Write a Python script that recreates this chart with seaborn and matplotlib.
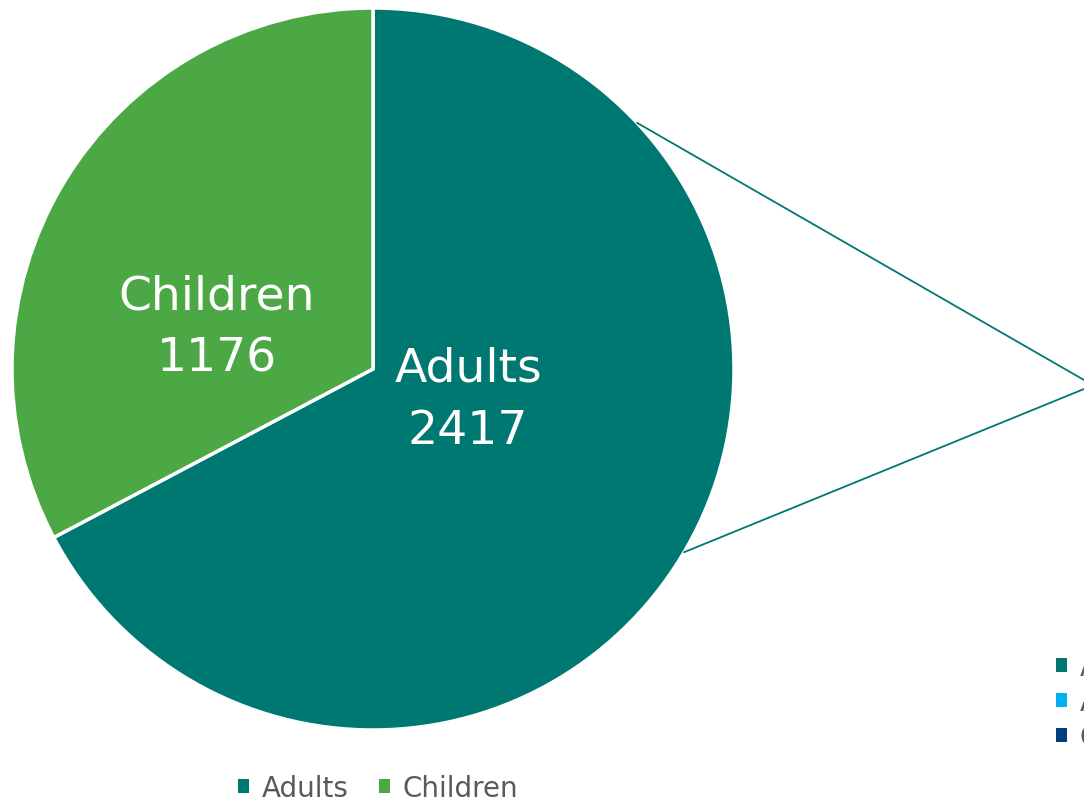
import matplotlib.pyplot as plt
import seaborn as sns
import numpy as np
from matplotlib.patches import Patch

# Datos
categories = ['Adults', 'Children']
counts = [2417, 1176]
colors = ['#007872', '#4BA844']

# segunda tarta (fuera del lienzo): solo se ve el principio de la leyenda
detail_labels = ['Adults 18-64', 'Adults 65+', 'Children']
detail_colors = ['#007872', '#00B0F0', '#003F7F']

sns.set_theme(style='white')
plt.rcParams['font.family'] = ['DejaVu Sans']

W, H = 1084, 803
fig = plt.figure(figsize=(W / 100, H / 100), dpi=100)
ax = fig.add_axes([0, 0, 1, 1])

center = (373, H - 370)
radius = 361

wedges, texts = ax.pie(
    counts,
    labels=[f'{c}\n{v}' for c, v in zip(categories, counts)],
    colors=colors,
    startangle=90,
    counterclock=False,
    center=center,
    radius=radius,
    wedgeprops=dict(edgecolor='white', linewidth=2.5),
    textprops=dict(color='white', fontsize=34),
)

# posiciones de las etiquetas como en el original
label_pos = [(468, H - 400), (217, H - 328)]
for t, pos in zip(texts, label_pos):
    t.set_position(pos)
    t.set_ha('center')
    t.set_va('center')
    t.set_linespacing(1.5)

# líneas de conexión hacia la segunda tarta
conn_angles = [43, -30.5]
conn_ends = [(1084, H - 381), (1084, H - 390)]
for ang, end in zip(conn_angles, conn_ends):
    a = np.deg2rad(ang)
    start = (center[0] + radius * np.cos(a), center[1] + radius * np.sin(a))
    ax.plot([start[0], end[0]], [start[1], end[1]], color=colors[0], lw=1.3)

ax.set_xlim(0, W)
ax.set_ylim(0, H)
ax.set_aspect('equal')
ax.axis('off')

# leyenda inferior
handles = [Patch(facecolor=c, edgecolor='none') for c in colors]
fig.legend(handles, categories, loc='center', bbox_to_anchor=(378 / W, 1 - 789 / H),
           ncol=2, frameon=False, fontsize=20, labelcolor='#595959',
           handlelength=0.4, handleheight=0.4, handletextpad=0.45,
           columnspacing=1.1, borderpad=0, borderaxespad=0)

# leyenda de la derecha (cortada por el borde)
handles2 = [Patch(facecolor=c, edgecolor='none') for c in detail_colors]
fig.legend(handles2, detail_labels, loc='center left', bbox_to_anchor=(1056 / W, 1 - 703 / H),
           ncol=1, frameon=False, fontsize=20, labelcolor='#595959',
           handlelength=0.4, handleheight=0.4, handletextpad=0.45,
           labelspacing=0.26, borderpad=0, borderaxespad=0)

fig.savefig('out.png', dpi=100)
